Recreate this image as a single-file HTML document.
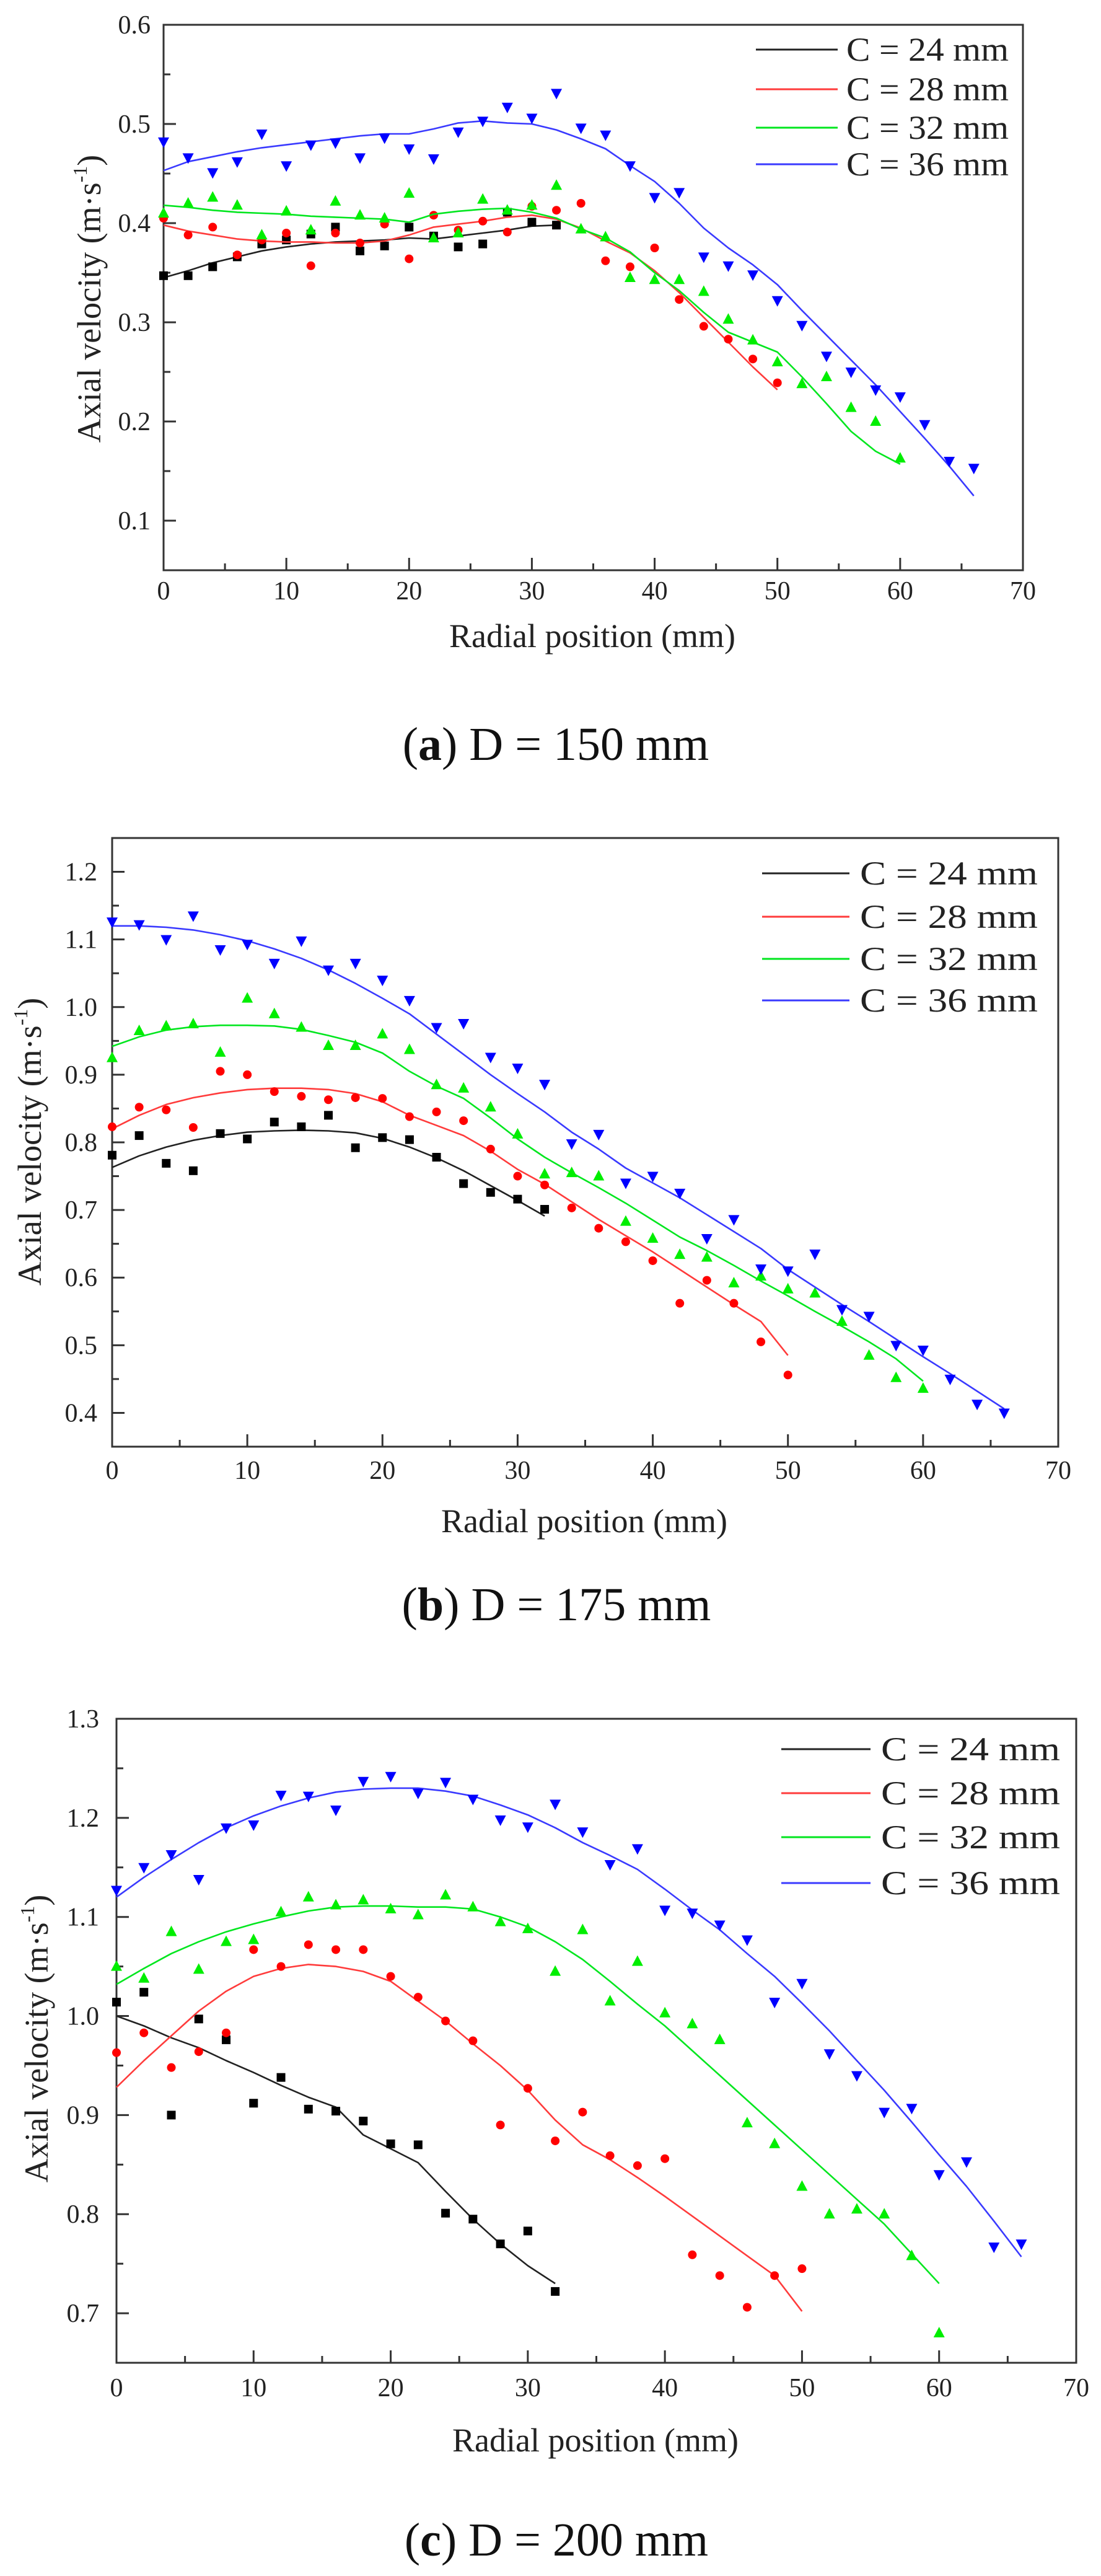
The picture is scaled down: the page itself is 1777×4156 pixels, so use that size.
<!DOCTYPE html>
<html><head><meta charset="utf-8"><style>
html,body{margin:0;padding:0;background:#fff;}
svg{display:block;font-family:"Liberation Serif",serif;}
</style></head><body>
<svg id="fig" width="1777" height="4156" viewBox="0 0 1777 4156" xmlns="http://www.w3.org/2000/svg"></svg>
<script>
// ---------- data ----------
const radialA = [0,2,4,6,8,10,12,14,16,18,20,22,24,26,28,30,32,34,36,38,40,42,44,46,48,50,52,54,56,58,60,62,64,66];
const seriesNames = ["C = 24 mm","C = 28 mm","C = 32 mm","C = 36 mm"];
const xTickLabels = ["0","10","20","30","40","50","60","70"];
// Chart (a) D=150
const a24pts = [.347,.347,.356,.366,.379,.383,.389,.396,.372,.377,.396,.387,.376,.379,.411,.401,.398];
const a24fit = [.345,.352,.36,.366,.372,.376,.379,.381,.382,.383,.385,.384,.387,.390,.393,.397,.398];
const a28pts = [.405,.388,.396,.368,.383,.39,.357,.39,.38,.399,.364,.408,.393,.402,.391,.417,.413,.42,.362,.356,.375,.323,.296,.283,.263,.239];
const a28fit = [.398,.392,.388,.384,.382,.381,.381,.380,.380,.382,.388,.396,.399,.402,.406,.408,.404,.395,.382,.370,.352,.33,.305,.28,.255,.232];
const a32pts = [.41,.42,.426,.418,.388,.412,.393,.422,.408,.405,.43,.385,.39,.424,.413,.418,.438,.394,.386,.345,.343,.343,.331,.303,.282,.26,.238,.245,.214,.2,.163];
const a32fit = [.418,.416,.413,.411,.410,.409,.407,.406,.405,.404,.401,.409,.412,.414,.415,.411,.405,.394,.385,.371,.350,.332,.31,.29,.28,.27,.245,.218,.19,.17,.157];
const a36pts = [.482,.466,.451,.462,.49,.458,.479,.481,.466,.486,.475,.465,.492,.503,.517,.506,.531,.496,.489,.458,.426,.431,.366,.357,.348,.322,.297,.266,.25,.232,.225,.197,.16,.153];
const a36fit = [.453,.462,.467,.472,.476,.479,.482,.485,.488,.490,.490,.495,.501,.503,.501,.500,.494,.485,.475,.458,.442,.42,.395,.375,.358,.338,.312,.287,.262,.237,.21,.183,.155,.125];
const aYTicks = [0.1,0.2,0.3,0.4,0.5,0.6];
const aYLabels = ["0.1","0.2","0.3","0.4","0.5","0.6"];
// Chart (b) D=175
const b24pts = [.781,.81,.769,.758,.813,.805,.83,.823,.84,.792,.807,.804,.778,.739,.726,.716,.701];
const b24fit = [.763,.78,.793,.803,.81,.815,.817,.818,.817,.814,.806,.793,.777,.758,.736,.714,.691];
const b28pts = [.823,.852,.848,.822,.905,.9,.875,.868,.863,.866,.865,.838,.845,.832,.79,.75,.737,.703,.673,.653,.625,.562,.596,.562,.505,.456];
const b28fit = [.82,.84,.856,.866,.873,.878,.88,.88,.878,.872,.86,.84,.825,.81,.787,.76,.738,.712,.686,.662,.638,.612,.586,.56,.535,.485];
const b32pts = [.925,.965,.972,.975,.933,1.013,.99,.97,.943,.943,.96,.937,.885,.88,.852,.812,.753,.755,.75,.683,.658,.634,.63,.592,.602,.583,.577,.535,.485,.452,.436];
const b32fit = [.942,.956,.966,.971,.973,.973,.972,.967,.958,.948,.932,.905,.883,.865,.836,.805,.778,.755,.733,.71,.685,.66,.64,.618,.595,.573,.55,.528,.505,.48,.447];
const b36pts = [1.126,1.122,1.1,1.135,1.085,1.093,1.065,1.098,1.055,1.065,1.04,1.01,.97,.976,.926,.91,.886,.798,.812,.74,.75,.725,.658,.686,.613,.61,.635,.553,.543,.5,.493,.45,.413,.4];
const b36fit = [1.12,1.12,1.118,1.114,1.107,1.098,1.086,1.072,1.055,1.035,1.013,.99,.96,.93,.9,.872,.845,.815,.79,.762,.74,.718,.693,.668,.643,.612,.586,.56,.535,.509,.483,.458,.432,.406];
const bYTicks = [0.4,0.5,0.6,0.7,0.8,0.9,1.0,1.1,1.2];
const bYLabels = ["0.4","0.5","0.6","0.7","0.8","0.9","1.0","1.1","1.2"];
// Chart (c) D=200
const c24pts = [1.014,1.024,.9,.997,.976,.912,.938,.906,.904,.894,.871,.87,.801,.795,.77,.783,.722];
const c24fit = [1.0,.99,.978,.968,.955,.943,.93,.918,.908,.88,.866,.852,.823,.795,.77,.748,.73];
const c28pts = [.963,.983,.948,.964,.983,1.067,1.05,1.072,1.067,1.067,1.04,1.019,.995,.975,.89,.927,.874,.903,.859,.849,.856,.759,.738,.706,.738,.745];
const c28fit = [.928,.955,.98,1.005,1.025,1.04,1.048,1.052,1.05,1.045,1.035,1.015,.995,.972,.95,.925,.895,.87,.855,.837,.818,.798,.778,.758,.738,.702];
const c32pts = [1.05,1.038,1.085,1.047,1.075,1.077,1.105,1.12,1.112,1.117,1.108,1.102,1.122,1.11,1.095,1.088,1.045,1.087,1.015,1.055,1.003,.992,.976,.892,.871,.828,.8,.805,.8,.758,.68];
const c32fit = [1.032,1.048,1.063,1.075,1.085,1.093,1.1,1.106,1.11,1.111,1.111,1.11,1.11,1.108,1.1,1.09,1.075,1.057,1.035,1.012,.99,.965,.94,.915,.89,.865,.84,.815,.79,.76,.73];
const c36pts = [1.127,1.15,1.163,1.138,1.19,1.193,1.223,1.222,1.208,1.237,1.242,1.225,1.236,1.219,1.198,1.191,1.214,1.186,1.153,1.169,1.107,1.104,1.092,1.077,1.014,1.033,.962,.94,.903,.907,.84,.853,.767,.77];
const c36fit = [1.12,1.14,1.158,1.175,1.19,1.202,1.212,1.22,1.226,1.229,1.23,1.23,1.227,1.222,1.213,1.203,1.19,1.175,1.162,1.148,1.128,1.107,1.087,1.063,1.04,1.013,.985,.955,.925,.893,.86,.828,.793,.757];
const cYTicks = [0.7,0.8,0.9,1.0,1.1,1.2,1.3];
const cYLabels = ["0.7","0.8","0.9","1.0","1.1","1.2","1.3"];

// ---------- rendering ----------
const NS = "http://www.w3.org/2000/svg";
const fig = document.getElementById("fig");
function mk(tag, attrs, parent){const e=document.createElementNS(NS,tag);for(const k in attrs)e.setAttribute(k,attrs[k]);(parent||fig).appendChild(e);return e;}
const lineCols = ["#222222","#ff3b3b","#00e61e","#3a3aff"];
const markCols = ["#000000","#ff0000","#00ee00","#0000ff"];
const shapes = ["square","circle","tri-up","tri-down"];

function drawChart(cfg){
  const g = mk("g",{});
  
  
  const L=cfg.L,R=cfg.R,T=cfg.T,B=cfg.B;
  const xs = v => L + (v-0)/(70-0)*(R-L);
  const ys = v => B - (v-cfg.ymin)/(cfg.ymax-cfg.ymin)*(B-T);
  const frame = mk("rect",{x:L,y:T,width:R-L,height:B-T,fill:"none",stroke:"#333",'stroke-width':3},g);
  
  
  // x ticks
  xTickLabels.forEach((lab,i)=>{
    const v=i*10, x=xs(v);
    mk("line",{x1:x,y1:B,x2:x,y2:B-20,stroke:"#333",'stroke-width':3},g);
    if(i<7){const xm=xs(v+5);mk("line",{x1:xm,y1:B,x2:xm,y2:B-11,stroke:"#333",'stroke-width':3},g);}
    const t=mk("text",{x:x,y:cfg.xLabY,'font-size':42,'text-anchor':'middle',fill:"#222"},g);
    t.textContent=lab;
    
    
  });
  // y ticks
  cfg.yTicks.forEach((v,i)=>{
    const y=ys(v);
    mk("line",{x1:L,y1:y,x2:L+20,y2:y,stroke:"#333",'stroke-width':3},g);
    const vm=v+cfg.ystep/2;
    if(vm<cfg.ymax+1e-9) {const ym=ys(vm);mk("line",{x1:L,y1:ym,x2:L+11,y2:ym,stroke:"#333",'stroke-width':3},g);}
    const t=mk("text",{x:cfg.yLabX,y:y+14,'font-size':42,'text-anchor':'end',fill:"#222"},g);
    t.textContent=cfg.yLabels[i];
    
    
  });
  const vm0=cfg.yTicks[0]-cfg.ystep/2;
  if(vm0>cfg.ymin-1e-9){const ym=ys(vm0);mk("line",{x1:L,y1:ym,x2:L+11,y2:ym,stroke:"#333",'stroke-width':3},g);}
  // series
  cfg.series.forEach((s,si)=>{
    const pts=s.fit.map((v,i)=>xs(radialA[i]).toFixed(1)+","+ys(v).toFixed(1)).join(" ");
    const pl=mk("polyline",{points:pts,fill:"none",stroke:lineCols[si],'stroke-width':2.6,'stroke-linejoin':'round'},g);
    
    
    s.pts.forEach((v,i)=>{
      const x=xs(radialA[i]), y=ys(v), c=markCols[si];
      let m;
      if(shapes[si]==="square") m=mk("rect",{x:x-7,y:y-7,width:14,height:14,fill:c},g);
      else if(shapes[si]==="circle") m=mk("circle",{cx:x,cy:y,r:7,fill:c},g);
      else if(shapes[si]==="tri-up") m=mk("polygon",{points:`${x},${y-10} ${x+9},${y+7} ${x-9},${y+7}`,fill:c},g);
      else m=mk("polygon",{points:`${x},${y+10} ${x+9},${y-7} ${x-9},${y-7}`,fill:c},g);
      
      
    });
  });
  // legend
  seriesNames.forEach((nm,i)=>{
    const y=cfg.legY[i];
    mk("line",{x1:cfg.legX1,y1:y,x2:cfg.legX2,y2:y,stroke:lineCols[i],'stroke-width':3},g);
    const t=mk("text",{x:cfg.legTX,y:y+18,'font-size':54,fill:"#222",textLength:cfg.legTW,lengthAdjust:"spacingAndGlyphs"},g);
    t.textContent=nm;
    
    
  });
  // axis titles
  const xt=mk("text",{x:cfg.xTitleX,y:cfg.xTitleY,'font-size':54,'text-anchor':'middle',fill:"#222"},g);
  xt.textContent="Radial position (mm)";
  
  
  const yt=mk("text",{x:0,y:0,'font-size':54,'text-anchor':'middle',fill:"#222",transform:`translate(${cfg.yTitleX},${cfg.yTitleY}) rotate(-90)`},g);
  yt.innerHTML='Axial velocity (m·s<tspan font-size="32" dy="-22">-1</tspan><tspan dy="22">)</tspan>';
  
  
  const cap=mk("text",{x:cfg.capX,y:cfg.capY,'font-size':76,'text-anchor':'middle',fill:"#111"},g);
  cap.innerHTML='(<tspan font-weight="bold">'+cfg.capLetter+'</tspan>) D = '+cfg.capD+' mm';
  
  
}

drawChart({name:"chart-d150",L:264,R:1651,T:40,B:920,ymin:0.05,ymax:0.6,ystep:0.1,yTicks:aYTicks,yLabels:aYLabels,
  xLabY:967,yLabX:243,legX1:1220,legX2:1352,legTX:1366,legTW:262,legY:[80,144,206,265],
  xTitleX:956,xTitleY:1044,yTitleX:162,yTitleY:482,capX:897,capY:1226,capLetter:"a",capD:"150",
  series:[{pts:a24pts,fit:a24fit},{pts:a28pts,fit:a28fit},{pts:a32pts,fit:a32fit},{pts:a36pts,fit:a36fit}]});
drawChart({name:"chart-d175",L:181,R:1708,T:1352,B:2334,ymin:0.35,ymax:1.25,ystep:0.1,yTicks:bYTicks,yLabels:bYLabels,
  xLabY:2386,yLabX:157,legX1:1230,legX2:1371,legTX:1388,legTW:287,legY:[1409,1479,1547,1614],
  xTitleX:943,xTitleY:2472,yTitleX:66,yTitleY:1842,capX:898,capY:2614,capLetter:"b",capD:"175",
  series:[{pts:b24pts,fit:b24fit},{pts:b28pts,fit:b28fit},{pts:b32pts,fit:b32fit},{pts:b36pts,fit:b36fit}]});
drawChart({name:"chart-d200",L:188,R:1737,T:2773,B:3812,ymin:0.65,ymax:1.3,ystep:0.1,yTicks:cYTicks,yLabels:cYLabels,
  xLabY:3866,yLabX:160,legX1:1261,legX2:1405,legTX:1422,legTW:289,legY:[2822,2893,2964,3038],
  xTitleX:961,xTitleY:3955,yTitleX:77,yTitleY:3289,capX:898,capY:4123,capLetter:"c",capD:"200",
  series:[{pts:c24pts,fit:c24fit},{pts:c28pts,fit:c28fit},{pts:c32pts,fit:c32fit},{pts:c36pts,fit:c36fit}]});
</script>
</body></html>
